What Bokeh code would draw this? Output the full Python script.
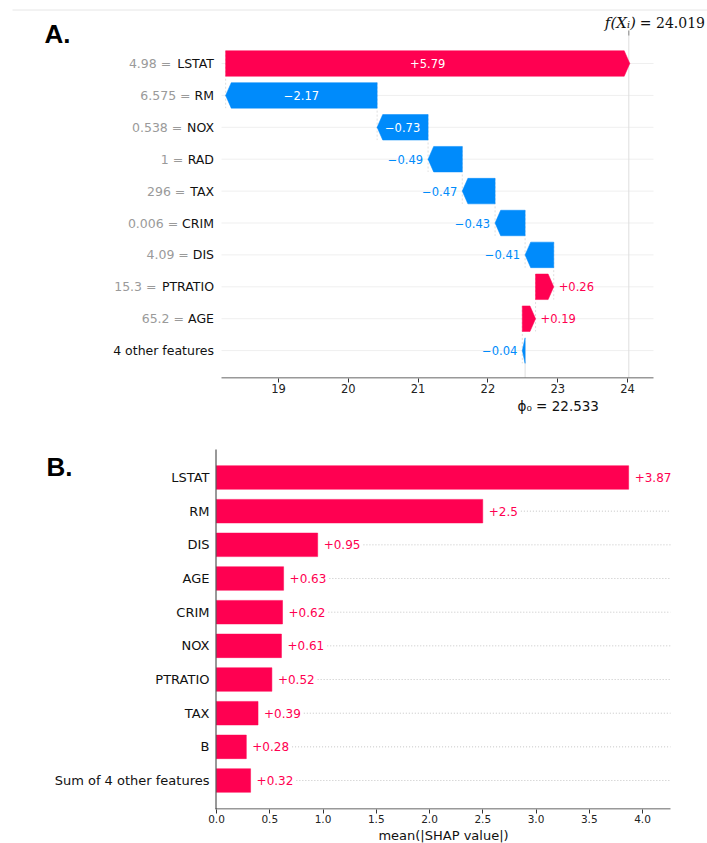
from bokeh.plotting import figure
from bokeh.models import Range1d, FixedTicker, ColumnDataSource, Title
from bokeh.layouts import column
from bokeh.embed import file_html
from bokeh.resources import INLINE
from bokeh.core.properties import value

# ---------------- data ----------------
# Panel A : waterfall of one prediction (top row first)
wf_features = ["LSTAT", "RM", "NOX", "RAD", "TAX", "CRIM", "DIS", "PTRATIO", "AGE", "4 other features"]
wf_feature_values = ["4.98", "6.575", "0.538", "1", "296", "0.006", "4.09", "15.3", "65.2", ""]
wf_shap = [5.79, -2.17, -0.73, -0.49, -0.47, -0.43, -0.41, 0.26, 0.19, -0.04]
base_value = 22.533
fx_value = 24.019
wf_ticks = [19, 20, 21, 22, 23, 24]

# Panel B : mean |SHAP| bar chart (top row first)
imp_features = ["LSTAT", "RM", "DIS", "AGE", "CRIM", "NOX", "PTRATIO", "TAX", "B", "Sum of 4 other features"]
imp_values = [3.87, 2.5, 0.95, 0.63, 0.62, 0.61, 0.52, 0.39, 0.28, 0.32]
imp_ticks = [0.0, 0.5, 1.0, 1.5, 2.0, 2.5, 3.0, 3.5, 4.0]

# ---------------- style / layout ----------------
RED = "#ff0051"
BLUE = "#008bfb"
FONT = "DejaVu Sans"
W = 707
HA = 425
HB = 418

# DejaVu Sans advance widths (units per em = 2048), used only to place texts side by side
CW = {" ": 651, "=": 1716, ".": 651, "+": 1716, "\u2212": 1716, "(": 799, ")": 799, "|": 690,
      "A": 1401, "C": 1430, "D": 1577, "E": 1294, "G": 1577, "H": 1540, "I": 604, "L": 1165,
      "M": 1767, "N": 1532, "O": 1612, "P": 1235, "R": 1423, "S": 1300, "T": 1251, "X": 1403,
      "a": 1255, "e": 1260, "l": 569, "m": 1995, "n": 1298, "u": 1298, "v": 1212}
for d in "0123456789":
    CW[d] = 1303


def text_w(s, size):
    return sum(CW.get(c, 1300) for c in s) / 2048.0 * size


def fmt(v):
    return ("+" if v >= 0 else "\u2212") + ("%g" % round(abs(v), 2))


# pixel <-> data helpers (layout only)
A_PXU, A_X0PX, A_X0 = 69.8, 278.0, 19.0      # x: 19 sits at pixel 278, 69.8 px per unit
A_ROW, A_Y0PX = 31.9, 63.0                    # y: row 0 at pixel 63, 31.9 px per row


def ax(px):
    return A_X0 + (px - A_X0PX) / A_PXU


def ay(py):
    return (py - A_Y0PX) / A_ROW


B_PXU, B_X0PX = 106.5, 216.0                  # x: 0 sits at pixel 216
B_ROW, B_Y0PX, B_TOP = 33.67, 477.0, HA        # y: row 0 at page pixel 477


def bx(px):
    return (px - B_X0PX) / B_PXU


def by(py):
    return (py - B_Y0PX) / B_ROW


# =============== Panel A ===============
A_FRAME_BOTTOM = 378
pA = figure(width=W, height=HA, output_backend="svg", toolbar_location=None,
            x_range=Range1d(ax(0), ax(W)), y_range=Range1d(ay(A_FRAME_BOTTOM), ay(0)),
            y_axis_location=None, min_border=0, min_border_bottom=HA - A_FRAME_BOTTOM)
pA.outline_line_color = None
pA.grid.visible = False
pA.background_fill_color = "white"
pA.border_fill_color = "white"

n = len(wf_shap)
rows = list(range(n))
starts = [0.0] * n
loc = base_value
for i in range(n - 1, -1, -1):
    starts[i] = loc
    loc += wf_shap[i]
ends = [s + v for s, v in zip(starts, wf_shap)]

# faint rule along the top of the picture
pA.segment(x0=[ax(12)], x1=[ax(W)], y0=[ay(9.5)], y1=[ay(9.5)], line_color="#e6e6e6", line_width=1)

AX_L, AX_R = ax(221), ax(653)
# faint row lines
pA.segment(x0=[AX_L] * n, x1=[AX_R] * n, y0=rows, y1=rows, line_color="#efefef", line_width=1)
# connectors between consecutive arrows
pA.segment(x0=starts[:-1], x1=starts[:-1], y0=[r - 0.4 for r in rows[:-1]], y1=[r + 1.4 for r in rows[:-1]],
           line_color="#d0d0d0", line_width=0.7, line_dash="2 2")
# f(x) line, its tick, and base line
pA.segment(x0=[fx_value], x1=[fx_value], y0=[ay(30)], y1=[ay(377)], line_color="#dedede", line_width=1)
pA.segment(x0=[fx_value], x1=[fx_value], y0=[ay(30)], y1=[ay(35)], line_color="#888888", line_width=1)
pA.segment(x0=[base_value], x1=[base_value], y0=[ay(340)], y1=[ay(377)], line_color="#dedede", line_width=1)

# arrows
HEAD = 0.08
HALF = 0.4
xs, ys, cols = [], [], []
for r, s, e, v in zip(rows, starts, ends, wf_shap):
    d = 1 if v >= 0 else -1
    hl = min(abs(v), HEAD)
    b = e - d * hl
    xs.append([s, b, e, b, s])
    ys.append([r - HALF, r - HALF, r, r + HALF, r + HALF])
    cols.append(RED if v >= 0 else BLUE)
pA.patches(xs=xs, ys=ys, fill_color=cols, line_color=cols, line_width=0.5)

# value labels on / beside arrows
inside = dict(x=[], y=[], t=[])
out_pos = dict(x=[], y=[], t=[])
out_neg = dict(x=[], y=[], t=[])
for r, s, e, v in zip(rows, starts, ends, wf_shap):
    if abs(v) * A_PXU > 40:
        inside["x"].append((s + e) / 2); inside["y"].append(r); inside["t"].append(fmt(v))
    elif v >= 0:
        out_pos["x"].append(e); out_pos["y"].append(r); out_pos["t"].append(fmt(v))
    else:
        out_neg["x"].append(e); out_neg["y"].append(r); out_neg["t"].append(fmt(v))
pA.text(x="x", y="y", text="t", source=ColumnDataSource(inside), text_color="white",
        text_align="center", text_baseline="middle", text_font=value(FONT), text_font_size="11.5px")
pA.text(x="x", y="y", text="t", source=ColumnDataSource(out_pos), text_color=RED, x_offset=5,
        text_align="left", text_baseline="middle", text_font=value(FONT), text_font_size="11.5px")
pA.text(x="x", y="y", text="t", source=ColumnDataSource(out_neg), text_color=BLUE, x_offset=-5,
        text_align="right", text_baseline="middle", text_font=value(FONT), text_font_size="11.5px")

# row names (black) and feature values (grey)
NAME_SIZE_A = 12.5
NAME_X_A = ax(213.5)
pA.text(x=[NAME_X_A] * n, y=rows, text=wf_features, text_align="right", text_baseline="middle",
        text_color="#111111", text_font=value(FONT), text_font_size="%gpx" % NAME_SIZE_A)
gv = dict(x=[], y=[], t=[], off=[])
for r, f, fv in zip(rows, wf_features, wf_feature_values):
    if fv:
        gv["x"].append(NAME_X_A); gv["y"].append(r); gv["t"].append(fv + " =")
        gv["off"].append(-(text_w(f, NAME_SIZE_A) + text_w(" ", NAME_SIZE_A)))
pA.text(x="x", y="y", text="t", x_offset="off", source=ColumnDataSource(gv), text_align="right",
        text_baseline="middle", text_color="#9a9a9a", text_font=value(FONT),
        text_font_size="%gpx" % NAME_SIZE_A)

# axis line (drawn only over the data span, as in the original)
pA.segment(x0=[AX_L], x1=[AX_R], y0=[ay(377.5)], y1=[ay(377.5)], line_color="#333333", line_width=1)
pA.xaxis.ticker = FixedTicker(ticks=wf_ticks)
pA.xaxis.axis_line_color = None
pA.xaxis.major_tick_line_color = "#333333"
pA.xaxis.minor_tick_line_color = None
pA.xaxis.major_tick_out = 4
pA.xaxis.major_tick_in = 0
pA.xaxis.major_label_standoff = 1
pA.xaxis.major_label_text_font = FONT
pA.xaxis.major_label_text_font_size = "11.5px"
pA.xaxis.major_label_text_color = "#222222"

# panel letter and f(x) label (kept fully inside the picture)
pA.text(x=[ax(44)], y=[ay(33)], text=["A."], text_font=value("Liberation Sans"), text_font_style="bold",
        text_font_size="26px", text_color="black", text_baseline="middle", text_align="left")
pA.text(x=[fx_value], y=[ay(22)], x_offset=7, text=["f(X\u1d62)"], text_font=value("DejaVu Serif"),
        text_font_style="italic", text_font_size="15px", text_color="#111111",
        text_align="right", text_baseline="middle")
pA.text(x=[fx_value], y=[ay(22)], x_offset=11, text=["= %.3f" % fx_value], text_font=value("DejaVu Serif"),
        text_font_size="14px", text_color="#111111", text_align="left", text_baseline="middle")

# base value label under the axis
pA.add_layout(Title(text="\u03d5\u2080 = %.3f" % base_value, align="left", offset=517, standoff=0,
                    text_font=FONT, text_font_size="13.5px", text_font_style="normal",
                    text_color="#111111"), "below")

# =============== Panel B ===============
B_FRAME_BOTTOM = 809
pB = figure(width=W, height=HB, output_backend="svg", toolbar_location=None,
            x_range=Range1d(bx(0), bx(W)), y_range=Range1d(by(B_FRAME_BOTTOM), by(B_TOP)),
            y_axis_location=None, min_border=0, min_border_bottom=HA + HB - B_FRAME_BOTTOM)
pB.outline_line_color = None
pB.grid.visible = False
pB.background_fill_color = "white"
pB.border_fill_color = "white"

m = len(imp_values)
brows = list(range(m))
BX_R = bx(670)
LBL_B = 12
lab_txt = [fmt(v) for v in imp_values]
dot_start = [v + (6 + text_w(t, LBL_B) + 3) / B_PXU for v, t in zip(imp_values, lab_txt)]
keep = [i for i in brows if dot_start[i] < BX_R]
pB.segment(x0=[dot_start[i] for i in keep], x1=[BX_R] * len(keep), y0=[brows[i] for i in keep],
           y1=[brows[i] for i in keep], line_color="#c4c4c4", line_width=1, line_dash="1 2")
pB.hbar(y=brows, left=0, right=imp_values, height=0.7, fill_color=RED, line_color=RED, line_width=0.5)
pB.text(x=imp_values, y=brows, text=lab_txt, x_offset=6, text_color=RED, text_align="left",
        text_baseline="middle", text_font=value(FONT), text_font_size="%dpx" % LBL_B)

# row names
pB.text(x=[bx(209)] * m, y=brows, text=imp_features, text_align="right", text_baseline="middle",
        text_color="#111111", text_font=value(FONT), text_font_size="13px")

# spines
pB.segment(x0=[bx(215.5)], x1=[bx(215.5)], y0=[by(449)], y1=[by(809)], line_color="#333333", line_width=1)
pB.segment(x0=[bx(215)], x1=[BX_R], y0=[by(808.5)], y1=[by(808.5)], line_color="#333333", line_width=1)

pB.xaxis.ticker = FixedTicker(ticks=imp_ticks)
pB.xaxis.major_label_overrides = {t: "%.1f" % t for t in imp_ticks}
pB.xaxis.axis_line_color = None
pB.xaxis.major_tick_line_color = "#333333"
pB.xaxis.minor_tick_line_color = None
pB.xaxis.major_tick_out = 4
pB.xaxis.major_tick_in = 0
pB.xaxis.major_label_standoff = 1
pB.xaxis.major_label_text_font = FONT
pB.xaxis.major_label_text_font_size = "10.5px"
pB.xaxis.major_label_text_color = "#222222"

XLABEL = "mean(|SHAP value|)"
pB.add_layout(Title(text=XLABEL, align="left", offset=443 - text_w(XLABEL, 13) / 2, standoff=0,
                    text_font=FONT, text_font_size="13px", text_font_style="normal",
                    text_color="#111111"), "below")

pB.text(x=[bx(46)], y=[by(466)], text=["B."], text_font=value("Liberation Sans"), text_font_style="bold",
        text_font_size="26px", text_color="black", text_baseline="middle", text_align="left")

layout = column(pA, pB, spacing=0)
open("out.html", "w").write(file_html(layout, INLINE))
